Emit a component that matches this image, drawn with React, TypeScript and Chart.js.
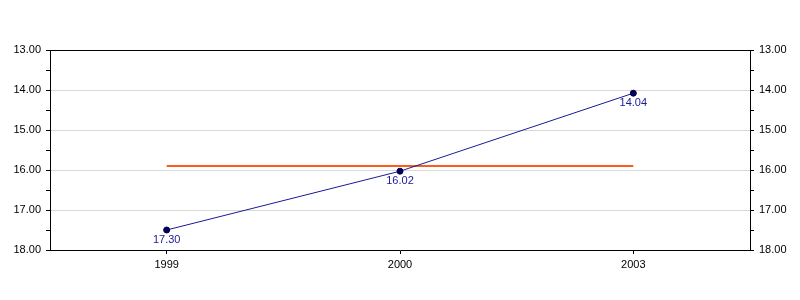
import React, { useEffect, useRef } from "react";
import { Chart, registerables } from "chart.js";

Chart.register(...registerables);

const categories = ["1999", "2000", "2003"];
const pointValues = [17.5, 16.03, 14.08];
const pointLabels = ["17.30", "16.02", "14.04"];
const averageValues = [15.9, 15.9, 15.9];
const yMin = 13;
const yMax = 18;

const FONT = "'Liberation Sans', Arial, sans-serif";

const framePlugin = {
  id: "frame",
  afterDraw(chart: any) {
    const { ctx, chartArea } = chart;
    ctx.save();
    ctx.strokeStyle = "#000";
    ctx.lineWidth = 1;
    ctx.beginPath();
    ctx.moveTo(chartArea.left, chartArea.top + 0.5);
    ctx.lineTo(chartArea.right, chartArea.top + 0.5);
    ctx.stroke();
    ctx.restore();
  },
};

const labelPlugin = {
  id: "pointLabels",
  afterDatasetsDraw(chart: any) {
    const { ctx } = chart;
    const meta = chart.getDatasetMeta(0);
    ctx.save();
    ctx.fillStyle = "#1a1a99";
    ctx.font = `11px ${FONT}`;
    ctx.textAlign = "center";
    ctx.textBaseline = "top";
    meta.data.forEach((pt: any, i: number) => {
      ctx.fillText(pointLabels[i], pt.x, pt.y + 4);
    });
    ctx.restore();
  },
};

function yAxis(position: "left" | "right", onArea: boolean) {
  return {
    type: "linear" as const,
    position,
    min: yMin,
    max: yMax,
    reverse: true,
    afterFit(scale: any) {
      scale.width = 50;
    },
    border: { display: true, color: "#000", width: 1 },
    grid: {
      drawOnChartArea: onArea,
      color: (c: any) =>
        c.tick && Number.isInteger(c.tick.value) && c.tick.value !== yMin && c.tick.value !== yMax
          ? "#d9d9d9"
          : "rgba(0,0,0,0)",
      tickColor: "#000",
      tickLength: 4,
      drawTicks: true,
    },
    ticks: {
      stepSize: 0.5,
      autoSkip: false,
      color: "#000",
      padding: 5,
      font: { family: FONT, size: 11 },
      callback: (v: any) => (Number.isInteger(v) ? Number(v).toFixed(2) : ""),
    },
  };
}

export default function App() {
  const ref = useRef<HTMLCanvasElement>(null);
  useEffect(() => {
    if (!ref.current) return;
    const chart = new Chart(ref.current, {
      type: "line",
      data: {
        labels: categories,
        datasets: [
          {
            data: pointValues,
            borderColor: "#1a1a99",
            borderWidth: 1,
            backgroundColor: "#000066",
            pointBackgroundColor: "#000066",
            pointBorderColor: "#000033",
            pointRadius: 3,
            pointBorderWidth: 1,
            yAxisID: "y",
          },
          {
            data: averageValues,
            borderColor: "#ff5a1f",
            borderWidth: 2,
            pointRadius: 0,
            yAxisID: "y",
          },
        ],
      },
      options: {
        animation: false,
        responsive: true,
        maintainAspectRatio: false,
        layout: { padding: { top: 50, left: 0, right: 0, bottom: 0 } },
        plugins: { legend: { display: false }, tooltip: { enabled: false } },
        scales: {
          x: {
            offset: true,
            afterFit(scale: any) {
              scale.height = 50;
            },
            border: { display: true, color: "#000", width: 1 },
            grid: {
              drawOnChartArea: false,
              offset: false,
              tickColor: "#000",
              tickLength: 4,
            },
            ticks: {
              color: "#000",
              padding: 4,
              font: { family: FONT, size: 11 },
            },
          },
          y: yAxis("left", true),
          y2: yAxis("right", false),
        },
      },
      plugins: [framePlugin, labelPlugin],
    });
    return () => chart.destroy();
  }, []);
  return (
    <div style={{ position: "fixed", left: 0, top: 0, width: 800, height: 300, background: "#fff" }}>
      <canvas ref={ref} />
    </div>
  );
}
